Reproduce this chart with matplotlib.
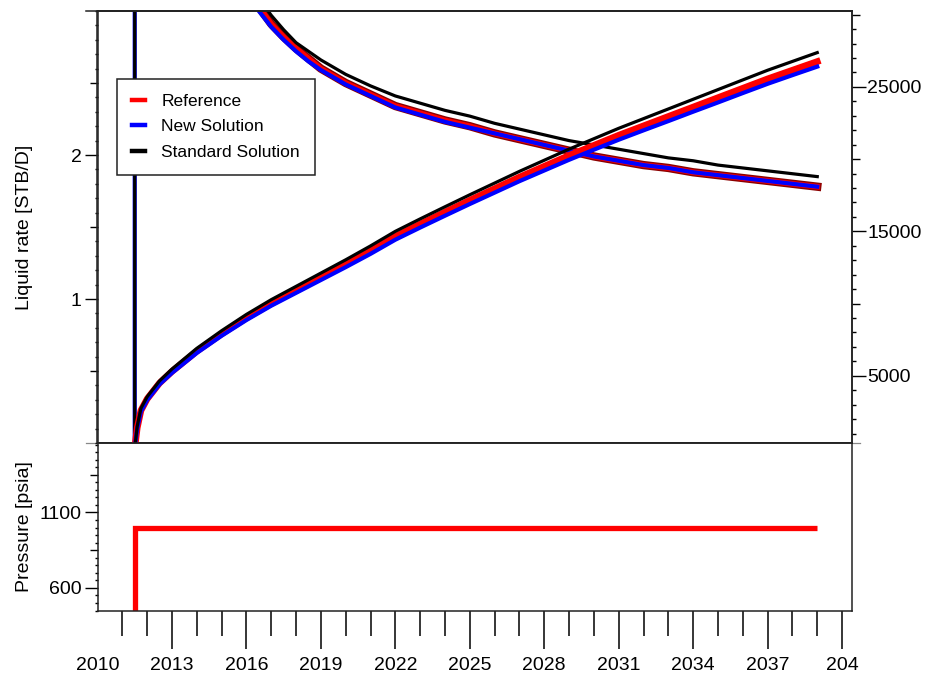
import matplotlib
matplotlib.use("Agg")
import matplotlib.pyplot as plt
import matplotlib.patheffects as pe
from matplotlib.lines import Line2D
from matplotlib.ticker import MultipleLocator

plt.rcParams['font.family'] = ['Liberation Sans', 'DejaVu Sans']

# liquid rate [STB/D] (left axis); the simulated runs open with a spike at start-up
rate_years = [2011.5, 2011.5, 2012, 2013, 2014, 2015, 2016, 2016.5,
              2017, 2017.5, 2018, 2018.5, 2019, 2020, 2021, 2022, 2023, 2024, 2025, 2026, 2027, 2028,
              2029, 2030, 2031, 2032, 2033, 2034, 2035, 2036, 2037, 2038, 2039]
rate_new = [0, 12.0, 6.15, 4.76, 4.07, 3.57, 3.13, 3.00,
            2.89, 2.80, 2.72, 2.65, 2.59, 2.49, 2.41, 2.33, 2.28, 2.23, 2.19, 2.15, 2.11, 2.07,
            2.03, 1.99, 1.96, 1.93, 1.91, 1.88, 1.86, 1.84, 1.82, 1.80, 1.78]
rate_std = [0, 12.0, 6.4, 5.0, 4.25, 3.75, 3.22, 3.09,
            2.97, 2.87, 2.78, 2.72, 2.66, 2.56, 2.48, 2.41, 2.36, 2.31, 2.27, 2.22, 2.18, 2.14,
            2.10, 2.07, 2.04, 2.01, 1.98, 1.96, 1.93, 1.91, 1.89, 1.87, 1.85]
ref_rate_years = [2012, 2013, 2014, 2015, 2016, 2016.5,
                  2017, 2017.5, 2018, 2018.5, 2019, 2020, 2021, 2022, 2023, 2024, 2025, 2026, 2027, 2028,
                  2029, 2030, 2031, 2032, 2033, 2034, 2035, 2036, 2037, 2038, 2039]
rate_ref = [6.2, 4.8, 4.1, 3.6, 3.16, 3.03,
            2.91, 2.82, 2.74, 2.67, 2.60, 2.50, 2.42, 2.34, 2.29, 2.24, 2.20, 2.15, 2.11, 2.07,
            2.03, 1.99, 1.96, 1.93, 1.91, 1.88, 1.86, 1.84, 1.82, 1.80, 1.78]

# cumulative liquid (right axis)
cum_years = [2011.5, 2011.6, 2011.75, 2012, 2012.5, 2013,
             2014, 2015, 2016, 2017, 2018, 2019, 2020, 2021, 2022, 2023, 2024, 2025, 2026,
             2027, 2028, 2029, 2030, 2031, 2032, 2033, 2034, 2035, 2036, 2037, 2038, 2039]
cum_ref = [0, 1400, 2600, 3400, 4500, 5300,
           6700, 7900, 9000, 10000, 10900, 11800, 12700, 13650, 14650, 15500, 16330, 17150, 17950,
           18750, 19500, 20250, 20950, 21650, 22300, 22950, 23600, 24250, 24900, 25550, 26150, 26750]
cum_new = [0, 1350, 2530, 3320, 4410, 5200,
           6580, 7770, 8860, 9850, 10740, 11630, 12520, 13440, 14420, 15260, 16080, 16890, 17680,
           18470, 19210, 19950, 20650, 21340, 21990, 22630, 23280, 23920, 24570, 25210, 25810, 26400]
cum_std = [0, 1500, 2750, 3550, 4650, 5470,
           6900, 8120, 9250, 10270, 11190, 12110, 13030, 13990, 15000, 15860, 16700, 17530, 18340,
           19150, 19920, 20690, 21410, 22130, 22800, 23470, 24140, 24810, 25480, 26150, 26760, 27370]

# bottom hole pressure
p_years = [2010.0, 2011.5, 2011.5, 2039.0]
p_psia = [14.7, 14.7, 1000, 1000]

year_ticks = list(range(2010, 2041, 3))
year_labels = [str(y) for y in year_ticks[:-1]] + ['204']

rate_ticks = [0.5, 1, 1.5, 2, 2.5]
rate_labels = ['', '1', '', '2', '']
cum_ticks = [5000, 10000, 15000, 20000, 25000, 30000]
cum_labels = ['5000', '', '15000', '', '25000', '']
p_ticks = [600, 850, 1100, 1350]
p_labels = ['600', '', '1100', '']

RED, BLUE, BLACK = '#ff0000', '#0000ff', '#000000'
FS = 14

fig = plt.figure(figsize=(9.27, 6.78), dpi=100)
W, H = 927, 678
x0, x1 = 97.5 / W, 852 / W
ax = fig.add_axes([x0, 1 - 443 / H, x1 - x0, 432 / H])
axp = fig.add_axes([x0, 1 - 611 / H, x1 - x0, 168 / H], sharex=ax)
ax2 = ax.twinx()

for a in (ax, axp, ax2):
    for s in a.spines.values():
        s.set_linewidth(1.1)
        s.set_color('#222222')

# rate curves
ax.plot(ref_rate_years, rate_ref, color=RED, lw=4, solid_joinstyle='round',
        path_effects=[pe.Stroke(linewidth=6, foreground='#8b0000'), pe.Normal()])
ax.plot(rate_years, rate_new, color=BLUE, lw=3)
ax.plot(rate_years, rate_std, color=BLACK, lw=2.3)

# cumulative curves
ax2.plot(cum_years, cum_ref, color=RED, lw=4.8)
ax2.plot(cum_years, cum_new, color=BLUE, lw=3)
ax2.plot(cum_years, cum_std, color=BLACK, lw=2.3)

ax.set_xlim(2010.0, 2040.4)
ax.set_ylim(0, 3.0)
ax2.set_ylim(350, 30250)

# left axis
ax.set_yticks(rate_ticks)
ax.set_yticklabels(rate_labels)
ax.yaxis.set_minor_locator(MultipleLocator(0.1))
ax.tick_params(axis='y', which='both', direction='out', width=1, labelsize=FS, pad=2)
ax.tick_params(axis='y', which='major', length=9.5)
ax.tick_params(axis='y', which='minor', length=2.3)
ax.tick_params(axis='x', which='both', bottom=False, labelbottom=False)
for t, lab in zip(ax.yaxis.get_major_ticks(), rate_labels):
    if not lab:
        t.tick1line.set_markersize(5.5)
ax.set_ylabel('Liquid rate [STB/D]', fontsize=FS)
ax.yaxis.set_label_coords(-0.0855, 0.5)

# right axis
ax2.set_yticks(cum_ticks)
ax2.set_yticklabels(cum_labels)
ax2.yaxis.set_minor_locator(MultipleLocator(1000))
ax2.tick_params(axis='y', which='both', direction='out', width=1, labelsize=FS, pad=1)
ax2.tick_params(axis='y', which='major', length=10)
ax2.tick_params(axis='y', which='minor', length=3)
for t, lab in zip(ax2.yaxis.get_major_ticks(), cum_labels):
    if not lab:
        t.tick2line.set_markersize(6)

# panel divider and top edge
ax.axhline(0, xmin=-0.0155, xmax=1.011, color='#888888', lw=0.9, clip_on=False, zorder=0.5)
ax.axhline(3.0, xmin=-0.0155, xmax=1.0, color='#222222', lw=1.1, clip_on=False)

# pressure panel
axp.plot(p_years, p_psia, color=RED, lw=3.8, solid_joinstyle='miter', solid_capstyle='butt')
axp.set_ylim(447, 1560)
axp.set_yticks(p_ticks)
axp.set_yticklabels(p_labels)
axp.yaxis.set_minor_locator(MultipleLocator(50))
axp.tick_params(axis='y', which='both', direction='out', width=1, labelsize=FS, pad=2)
axp.tick_params(axis='y', which='major', length=9.5)
axp.tick_params(axis='y', which='minor', length=2.3)
for t, lab in zip(axp.yaxis.get_major_ticks(), p_labels):
    if not lab:
        t.tick1line.set_markersize(5.5)
axp.set_ylabel('Pressure [psia]', fontsize=FS)
axp.yaxis.set_label_coords(-0.0855, 0.5)

axp.set_xticks(year_ticks)
axp.set_xticklabels(year_labels)
axp.xaxis.set_minor_locator(MultipleLocator(1))
axp.tick_params(axis='x', which='both', direction='out', width=1.1, labelsize=FS, pad=6)
axp.tick_params(axis='x', which='major', length=27)
axp.tick_params(axis='x', which='minor', length=18)
axp.xaxis.get_major_ticks()[0].tick1line.set_visible(False)

# legend
handles = [Line2D([], [], color=RED, lw=3.2),
           Line2D([], [], color=BLUE, lw=3.2),
           Line2D([], [], color=BLACK, lw=3.2)]
leg = ax2.legend(handles, ['Reference', 'New Solution', 'Standard Solution'],
                 loc='upper left', bbox_to_anchor=(0.0258, 0.8426), borderaxespad=0,
                 fontsize=12.5, handlelength=0.75, handletextpad=0.95, labelspacing=0.6,
                 borderpad=0.85, fancybox=False, framealpha=1, edgecolor='#222222')
leg.get_frame().set_linewidth(1.1)

fig.savefig('out.png', dpi=100)
